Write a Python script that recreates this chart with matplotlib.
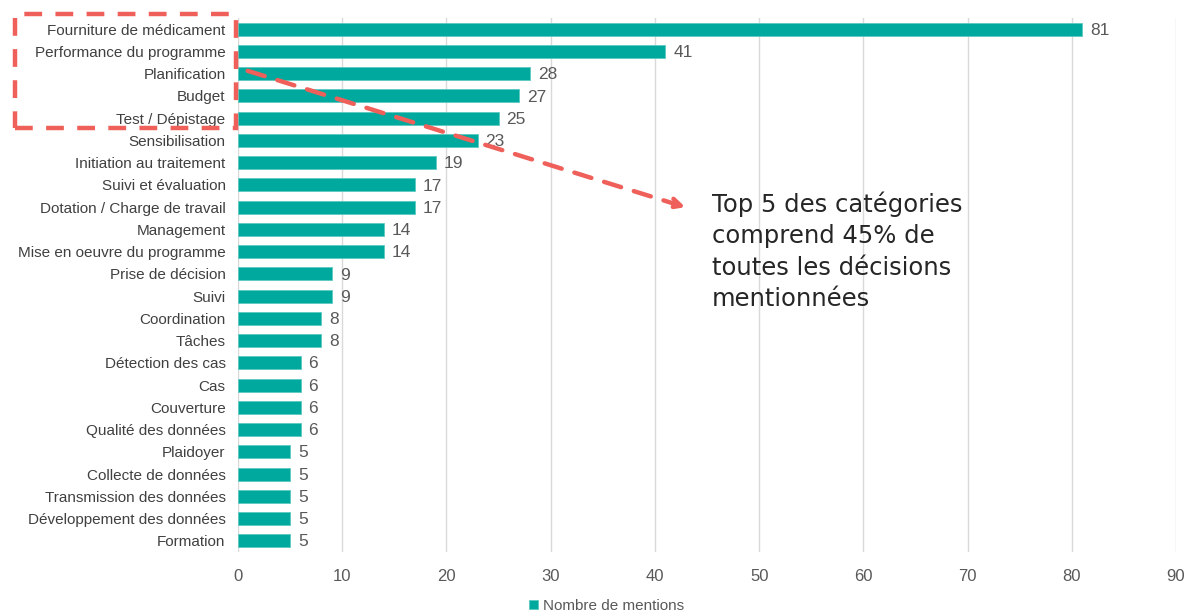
import matplotlib.pyplot as plt
from matplotlib.patches import Rectangle, FancyArrowPatch

categories = ['Fourniture de médicament', 'Performance du programme', 'Planification',
              'Budget', 'Test / Dépistage', 'Sensibilisation', 'Initiation au traitement',
              'Suivi et évaluation', 'Dotation / Charge de travail', 'Management',
              'Mise en oeuvre du programme', 'Prise de décision', 'Suivi', 'Coordination',
              'Tâches', 'Détection des cas', 'Cas', 'Couverture', 'Qualité des données',
              'Plaidoyer', 'Collecte de données', 'Transmission des données',
              'Développement des données', 'Formation']
mentions = [81, 41, 28, 27, 25, 23, 19, 17, 17, 14, 14, 9, 9, 8, 8, 6, 6, 6, 6, 5, 5, 5, 5, 5]
x_ticks = [0, 10, 20, 30, 40, 50, 60, 70, 80, 90]

teal = '#00A99D'
red = '#F0605A'
grey = '#595959'
plt.rcParams['font.family'] = ['Liberation Sans', 'DejaVu Sans']

fig = plt.figure(figsize=(11.86, 6.13), dpi=100, facecolor='white')
ax = fig.add_axes([0.2007, 0.0995, 0.7909, 0.8711])

y = list(range(len(categories)))
ax.barh(y, mentions, height=0.58, color=teal, edgecolor='#5cc9c0', linewidth=0.6,
        label='Nombre de mentions', zorder=3)
ax.set_ylim(len(categories) - 0.5, -0.5)
ax.set_xlim(0, 90)
ax.set_xticks(x_ticks)
ax.set_yticks(y)
ax.set_yticklabels(categories, fontsize=11, color='#404040')

# valeurs a cote des barres
for yi, v in zip(y, mentions):
    ax.text(v + 0.75, yi + 0.05, str(v), va='center', ha='left', fontsize=12.5,
            color=grey, zorder=4)

ax.grid(axis='x', color='#d9d9d9', linewidth=1, zorder=0)
for s in ax.spines.values():
    s.set_visible(False)
ax.tick_params(axis='x', length=0, labelsize=12, labelcolor=grey, pad=12)
ax.tick_params(axis='y', length=0, pad=9)

ax.legend(loc='upper center', bbox_to_anchor=(0.393, -0.068), frameon=False,
          fontsize=11, handlelength=0.6, handleheight=0.6, handletextpad=0.3,
          labelcolor=grey, borderpad=0.2)

# encadre des 5 premieres categories
box = Rectangle((15 / 1186, 1 - 128 / 613), (236 - 15) / 1186, (128 - 14) / 613,
                transform=fig.transFigure, fill=False, edgecolor=red, linewidth=3.2,
                linestyle=(0, (4, 3)), zorder=10)
fig.patches.append(box)

arrow = FancyArrowPatch((245 / 1186, 1 - 70 / 613), (688 / 1186, 1 - 208 / 613),
                        transform=fig.transFigure, arrowstyle='-|>', mutation_scale=16,
                        color=red, linewidth=3.2, linestyle=(0, (4, 3)), zorder=10)
fig.patches.append(arrow)

fig.text(712 / 1186, 1 - 191 / 613,
         'Top 5 des catégories\ncomprend 45% de\ntoutes les décisions\nmentionnées',
         ha='left', va='top', fontsize=17.5, color='#262626', linespacing=1.4,
         family=['DejaVu Sans'])

fig.savefig('out.png', dpi=100, facecolor='white')
